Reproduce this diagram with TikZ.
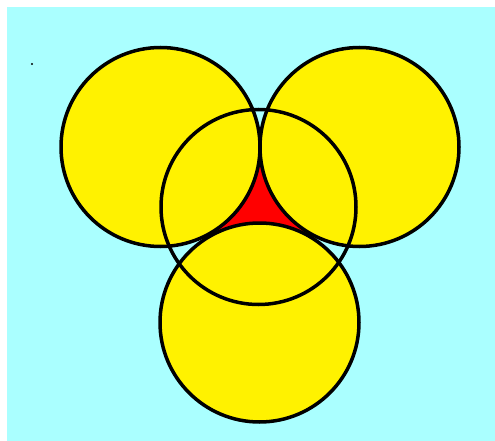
\documentclass[tikz,border=0pt]{standalone}
\definecolor{bgcyan}{RGB}{170,255,255}
\begin{document}
\begin{tikzpicture}[x=1pt,y=-1pt,
  outline/.style={draw=black,line width=3.5pt},
  disc/.style={fill=yellow},
  gap/.style={fill=red}]
\useasboundingbox (0,0) rectangle (495,441);
\fill[white] (0,0) rectangle (495,441);
\fill[bgcyan] (7,7) rectangle (495,441);
\coordinate (L) at (160.5,147);
\coordinate (R) at (359.5,147);
\coordinate (B) at (259.5,322.5);
\coordinate (M) at (258.5,207);
\fill[gap] (L) -- (R) -- (B) -- cycle;
\foreach \c in {L,R,B} \fill[disc] (\c) circle[radius=99.5];
\foreach \c in {L,R,B} \draw[outline] (\c) circle[radius=99.5];
\draw[outline] (M) circle[radius=97.5];
\fill[black] (32,64) circle[radius=1.2];
\end{tikzpicture}
\end{document}
